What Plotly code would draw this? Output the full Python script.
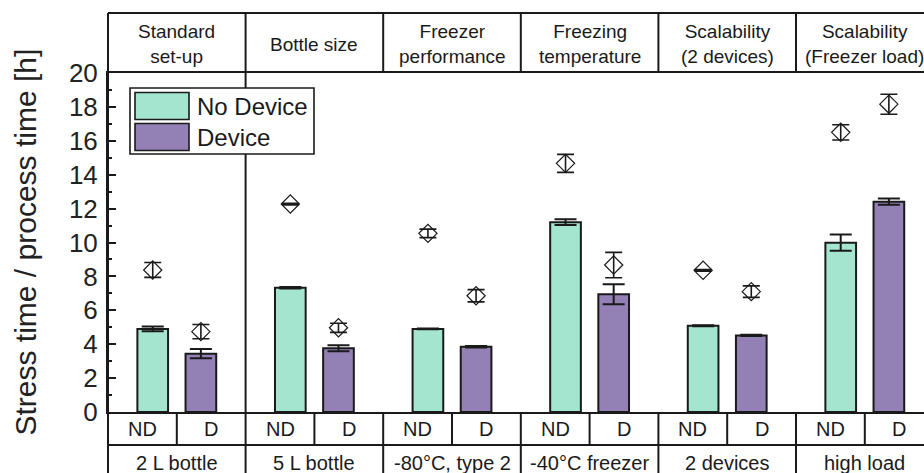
import plotly.graph_objects as go

# ---- data -------------------------------------------------------------
setups = ["Standard<br>set-up", "Bottle size", "Freezer<br>performance",
          "Freezing<br>temperature", "Scalability<br>(2 devices)",
          "Scalability<br>(Freezer load)"]
conditions = ["2 L bottle", "5 L bottle", "-80°C, type 2", "-40°C freezer",
              "2 devices", "high load"]
variant_labels = ["ND", "D"]
series_names = ["No Device", "Device"]

# stress time [h] (bars)
stress_nd = [4.90, 7.33, 4.90, 11.20, 5.09, 9.99]
stress_nd_err = [0.14, 0.05, 0.02, 0.17, 0.03, 0.48]
stress_d = [3.44, 3.76, 3.85, 6.94, 4.52, 12.41]
stress_d_err = [0.27, 0.18, 0.04, 0.59, 0.04, 0.19]

# process time [h] (open diamonds)
process_nd = [8.38, 12.27, 10.54, 14.67, 8.36, 16.50]
process_nd_err = [0.44, 0.05, 0.25, 0.53, 0.05, 0.45]
process_d = [4.74, 4.97, 6.86, 8.67, 7.10, 18.16]
process_d_err = [0.42, 0.27, 0.36, 0.75, 0.34, 0.59]

y_ticks = list(range(0, 21, 2))

# ---- styling ----------------------------------------------------------
FONT = "Liberation Sans, Arial, Helvetica, sans-serif"
INK = "#1a1a1a"
COL_ND = "#A4E5D0"
COL_D = "#9381B6"

W, H = 924, 473
ML, MT, MB = 108, 73, 61
PLOT_W = W - ML
PLOT_H = H - MT - MB
GROUP_PX = 137.6                      # width of one set-up column
X_MAX = -0.5 + PLOT_W / GROUP_PX

SHIFT = 0.175                         # bar offset from column centre
BAR_W = 0.223


def px_x(px):
    return (px - ML) / PLOT_W


def px_y(py):
    return (H - MB - py) / PLOT_H


groups = list(range(len(conditions)))
x_nd = [g - SHIFT for g in groups]
x_d = [g + SHIFT for g in groups]

fig = go.Figure()

for xs, ys, errs, col, name in [(x_nd, stress_nd, stress_nd_err, COL_ND, series_names[0]),
                                (x_d, stress_d, stress_d_err, COL_D, series_names[1])]:
    fig.add_trace(go.Bar(
        x=xs, y=ys, width=BAR_W, name=name,
        marker=dict(color=col, line=dict(color=INK, width=2)),
        error_y=dict(type="data", array=errs, color=INK, thickness=2, width=11),
    ))

for xs, ys, errs in [(x_nd, process_nd, process_nd_err),
                     (x_d, process_d, process_d_err)]:
    fig.add_trace(go.Scatter(
        x=xs, y=ys, mode="markers", showlegend=False,
        marker=dict(symbol="diamond-open", size=14, color=INK,
                    line=dict(color=INK, width=1.2)),
        error_y=dict(type="data", array=errs, color=INK, thickness=1.6, width=8.5),
    ))

# ---- table frame around the plot ------------------------------------
LINE = dict(color=INK, width=2)
top_y = px_y(13)
bottom_y = px_y(H + 10)
row_y = px_y(445)

shapes = []
# outer left border and header top
shapes.append(dict(type="line", xref="paper", yref="paper", x0=0, x1=0,
                   y0=bottom_y, y1=top_y, line=LINE))
shapes.append(dict(type="line", xref="paper", yref="paper", x0=0, x1=1,
                   y0=top_y, y1=top_y, line=LINE))
# footer separator between ND/D row and condition row
shapes.append(dict(type="line", xref="paper", yref="paper", x0=0, x1=1,
                   y0=row_y, y1=row_y, line=LINE))
for g in groups[:-1]:
    xb = g + 0.5
    if g == 0:
        shapes.append(dict(type="line", xref="x", yref="paper", x0=xb, x1=xb,
                           y0=bottom_y, y1=top_y, line=LINE))
    else:
        shapes.append(dict(type="line", xref="x", yref="paper", x0=xb, x1=xb,
                           y0=1, y1=top_y, line=LINE))
        shapes.append(dict(type="line", xref="x", yref="paper", x0=xb, x1=xb,
                           y0=bottom_y, y1=0, line=LINE))
for g in groups:
    shapes.append(dict(type="line", xref="x", yref="paper", x0=g, x1=g,
                       y0=row_y, y1=0, line=LINE))

# legend box
shapes.append(dict(type="rect", xref="paper", yref="paper",
                   x0=px_x(130), x1=px_x(314), y0=px_y(154), y1=px_y(88),
                   fillcolor="white", line=dict(color=INK, width=1.6)))
for (t, b), col in [((92.5, 119.5), COL_ND), ((123.5, 150.5), COL_D)]:
    shapes.append(dict(type="rect", xref="paper", yref="paper",
                       x0=px_x(135), x1=px_x(189), y0=px_y(b), y1=px_y(t),
                       fillcolor=col, line=dict(color=INK, width=1.6)))

annotations = []
for g in groups:
    annotations.append(dict(x=g, y=px_y(44), xref="x", yref="paper",
                            text=setups[g], showarrow=False,
                            font=dict(family=FONT, size=19, color=INK),
                            xanchor="center", yanchor="middle"))
    for k, off in enumerate((-0.25, 0.25)):
        annotations.append(dict(x=g + off, y=px_y(429.5), xref="x", yref="paper",
                                text=variant_labels[k], showarrow=False,
                                font=dict(family=FONT, size=20, color=INK),
                                xanchor="center", yanchor="middle"))
    annotations.append(dict(x=g, y=px_y(463), xref="x", yref="paper",
                            text=conditions[g], showarrow=False,
                            font=dict(family=FONT, size=20, color=INK),
                            xanchor="center", yanchor="middle"))

for name, cy in zip(series_names, (106, 137)):
    annotations.append(dict(x=px_x(195), y=px_y(cy), xref="paper", yref="paper",
                            text=name, showarrow=False,
                            font=dict(family=FONT, size=24, color=INK),
                            xanchor="left", yanchor="middle"))

annotations.append(dict(x=px_x(25), y=0.5, xref="paper", yref="paper",
                        text="Stress time / process time [h]", textangle=-90,
                        showarrow=False, font=dict(family=FONT, size=30, color="#222"),
                        xanchor="center", yanchor="middle"))

fig.update_layout(
    width=W, height=H,
    margin=dict(l=ML, r=0, t=MT, b=MB, pad=0),
    paper_bgcolor="white", plot_bgcolor="white",
    barmode="overlay", showlegend=False,
    font=dict(family=FONT, color=INK),
    shapes=shapes, annotations=annotations,
    xaxis=dict(range=[-0.5, X_MAX], showticklabels=False, ticks="",
               showgrid=False, zeroline=False, showline=True, mirror=True,
               linecolor=INK, linewidth=2, fixedrange=True),
    yaxis=dict(range=[0, 20], tickvals=y_ticks, ticks="inside", ticklen=8,
               tickwidth=2, tickcolor=INK, showgrid=False, zeroline=False,
               showline=True, linecolor=INK, linewidth=2, ticklabelstandoff=3,
               tickfont=dict(family=FONT, size=26, color="#222"),
               minor=dict(ticks="inside", ticklen=4, tickwidth=1.5,
                          tickcolor=INK, dtick=1, showgrid=False)),
)

fig.write_html("out.html")
